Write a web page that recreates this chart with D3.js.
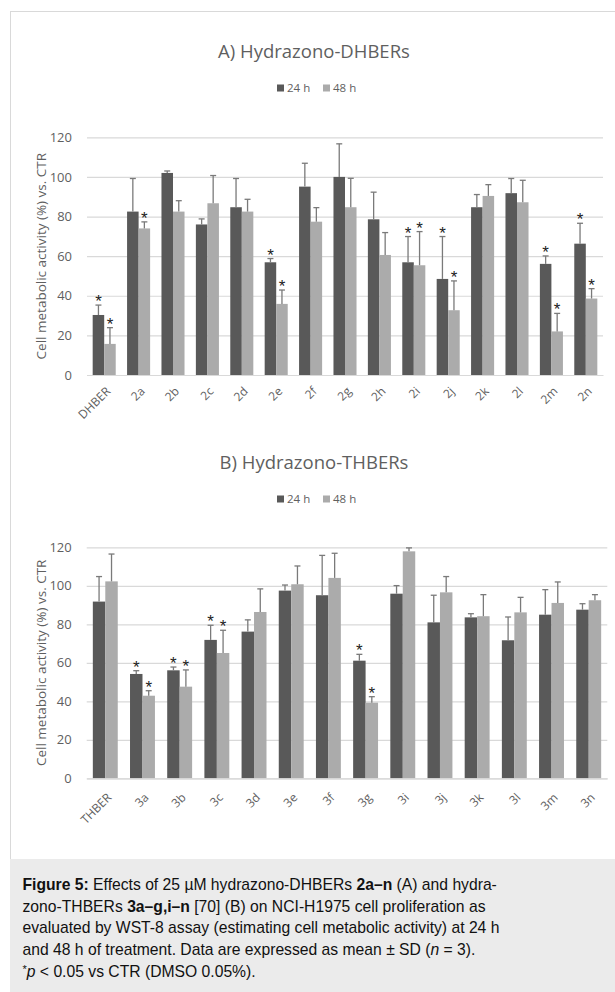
<!DOCTYPE html>
<html>
<head>
<meta charset="utf-8">
<script src="https://cdn.jsdelivr.net/npm/d3@7"></script>
<style>
  body { margin: 0; background: #fff; }
  svg { display: block; }
</style>
</head>
<body>
<div id="fig"></div>
<script>
// panel A values
const catsA = ['DHBER', '2a', '2b', '2c', '2d', '2e', '2f', '2g', '2h', '2i', '2j', '2k', '2l', '2m', '2n']
const a24 = [30.3, 82.5, 102, 76, 84.7, 56.9, 95.1, 100, 78.6, 56.9, 48.5, 84.7, 91.8, 56.1, 66.3]
const a24err = [5, 16.7, 1, 2.8, 14.5, 1.9, 11.8, 16.7, 13.7, 13, 21.4, 6.4, 7.4, 4, 10.3]
const a48 = [15.7, 74, 82.5, 86.7, 82.5, 35.9, 77.4, 84.7, 60.6, 55.4, 32.7, 90.4, 87.2, 22, 38.6]
const a48err = [8.2, 3.3, 5.5, 14, 6.2, 7, 7.1, 14.6, 11.3, 17, 14.8, 5.7, 11.1, 9.1, 5]
const sigA24 = ['DHBER', '2e', '2i', '2j', '2m', '2n']
const sigA48 = ['DHBER', '2a', '2e', '2i', '2j', '2m', '2n']

// panel B values
const catsB = ['THBER', '3a', '3b', '3c', '3d', '3e', '3f', '3g', '3i', '3j', '3k', '3l', '3m', '3n']
const b24 = [91.8, 54.2, 56.1, 71.9, 76.2, 97.5, 95.1, 61.1, 95.9, 81, 83.6, 71.7, 85, 87.6]
const b24err = [13, 1.7, 1.7, 7.6, 6.1, 2.9, 20.7, 3.3, 4.2, 14.1, 1.9, 12.1, 13, 3.1]
const b48 = [102.3, 42.9, 47.6, 65.1, 86.4, 100.8, 104.1, 39.3, 117.9, 96.6, 84.2, 86.2, 91.1, 92.5]
const b48err = [14.2, 2.6, 8.7, 11.8, 12, 9.5, 12.8, 3.1, 1.8, 8.2, 11.2, 7.8, 10.9, 2.9]
const sigB24 = ['3a', '3b', '3c', '3g']
const sigB48 = ['3a', '3b', '3c', '3g']

const yTicks = [0, 20, 40, 60, 80, 100, 120]
const seriesNames = ['24 h', '48 h']

const W = 615, H = 992
const colors = ['#595959', '#ababab']
const chartFont = "'Open Sans', sans-serif"
const textCol = '#5f5f5f'

const svg = d3.select('#fig').append('svg')
  .attr('width', W)
  .attr('height', H)

// white panel + border
svg.append('rect')
  .attr('x', 10.5).attr('y', 11.5)
  .attr('width', W).attr('height', 860)
  .attr('fill', '#fff')
  .attr('stroke', '#d9d9d9')

const makePanel = function(cfg) {
  const g = svg.append('g')

  g.append('text')
    .text(cfg.title)
    .attr('x', 314).attr('y', cfg.titleY)
    .attr('text-anchor', 'middle')
    .attr('font-family', chartFont)
    .attr('font-size', 18.5)
    .attr('fill', textCol)

  // legend
  const leg = g.append('g').attr('transform', `translate(277, ${cfg.legendY})`)
  seriesNames.forEach((s, i) => {
    const lx = i * 46
    leg.append('rect')
      .attr('x', lx).attr('y', -3.5)
      .attr('width', 7).attr('height', 7)
      .attr('fill', colors[i])
    leg.append('text')
      .text(s)
      .attr('x', lx + 10).attr('y', 4)
      .attr('font-family', chartFont)
      .attr('font-size', 11.5)
      .attr('fill', textCol)
  })

  const x0 = d3.scaleBand()
    .domain(cfg.cats)
    .range([cfg.left, cfg.right])

  const x1 = d3.scaleBand()
    .domain(seriesNames)
    .range([x0.bandwidth() * 0.165, x0.bandwidth() * 0.835])

  const y = d3.scaleLinear()
    .domain([0, 120])
    .range([cfg.bottom, cfg.top])

  // gridlines
  const yAxis = d3.axisLeft(y).tickValues(yTicks).tickSize(-(cfg.right - cfg.left)).tickPadding(15)
  const ya = g.append('g')
    .attr('transform', `translate(${cfg.left}, 0)`)
    .call(yAxis)
  ya.select('.domain').remove()
  ya.selectAll('.tick line').attr('stroke', '#d9d9d9').attr('stroke-width', 1.2)
  ya.selectAll('.tick text')
    .attr('font-family', chartFont)
    .attr('font-size', 13)
    .attr('fill', textCol)

  g.append('text')
    .text('Cell metabolic activity (%) vs. CTR')
    .attr('text-anchor', 'middle')
    .attr('transform', `translate(46, ${(cfg.top + cfg.bottom) / 2}) rotate(-90)`)
    .attr('font-family', chartFont)
    .attr('font-size', 13.5)
    .attr('fill', textCol)

  const rows = cfg.cats.map((c, i) => ({
    cat: c,
    vals: [
      { s: '24 h', v: cfg.v24[i], e: cfg.e24[i], sig: cfg.sig24.includes(c) },
      { s: '48 h', v: cfg.v48[i], e: cfg.e48[i], sig: cfg.sig48.includes(c) }
    ]
  }))

  const groups = g.append('g').selectAll('g')
    .data(rows).enter()
    .append('g')
      .attr('transform', d => `translate(${x0(d.cat)}, 0)`)

  const bars = groups.selectAll('g')
    .data(d => d.vals).enter()
    .append('g')

  bars.append('rect')
    .attr('x', d => x1(d.s))
    .attr('y', d => y(d.v))
    .attr('width', x1.bandwidth())
    .attr('height', d => y(0) - y(d.v))
    .attr('fill', (d, i) => colors[i])

  // error bars (upper only)
  bars.append('line')
    .attr('x1', d => x1(d.s) + x1.bandwidth() / 2)
    .attr('x2', d => x1(d.s) + x1.bandwidth() / 2)
    .attr('y1', d => y(d.v))
    .attr('y2', d => y(d.v + d.e))
    .attr('stroke', '#7a7a7a')
    .attr('stroke-width', 1.3)
  bars.append('line')
    .attr('x1', d => x1(d.s) + x1.bandwidth() / 2 - 3)
    .attr('x2', d => x1(d.s) + x1.bandwidth() / 2 + 3)
    .attr('y1', d => y(d.v + d.e))
    .attr('y2', d => y(d.v + d.e))
    .attr('stroke', '#7a7a7a')
    .attr('stroke-width', 1.3)

  bars.filter(d => d.sig).append('text')
    .text('*')
    .attr('x', d => x1(d.s) + x1.bandwidth() / 2)
    .attr('y', d => y(d.v + d.e) + 2)
    .attr('text-anchor', 'middle')
    .attr('font-family', "'Liberation Sans', Arial, sans-serif")
    .attr('font-size', 17)
    .attr('fill', '#222')

  // x axis
  const xAxis = d3.axisBottom(x0).tickSize(0).tickPadding(0)
  const xa = g.append('g')
    .attr('transform', `translate(0, ${cfg.bottom})`)
    .call(xAxis)
  xa.select('.domain').attr('stroke', '#d9d9d9').attr('stroke-width', 1.2)
  xa.selectAll('.tick text')
    .attr('font-family', chartFont)
    .attr('font-size', 12)
    .attr('fill', textCol)
    .attr('text-anchor', 'end')
    .attr('dy', 0)
    .attr('transform', `translate(7, ${cfg.labelDy}) rotate(-45)`)
}

makePanel({
  title: 'A) Hydrazono-DHBERs', titleY: 58, legendY: 88,
  cats: catsA, v24: a24, e24: a24err, v48: a48, e48: a48err, sig24: sigA24, sig48: sigA48,
  left: 87, right: 603, top: 137.3, bottom: 375, labelDy: 17
})

makePanel({
  title: 'B) Hydrazono-THBERs', titleY: 469, legendY: 499,
  cats: catsB, v24: b24, e24: b24err, v48: b48, e48: b48err, sig24: sigB24, sig48: sigB48,
  left: 86.7, right: 607.3, top: 547.3, bottom: 778.3, labelDy: 20
})

// caption
svg.append('rect')
  .attr('x', 10).attr('y', 859)
  .attr('width', W - 10).attr('height', H - 859)
  .attr('fill', '#ebebeb')

const capFont = "'Liberation Sans', Arial, sans-serif"
const capLines = [
  [['Figure 5:', 'b'], [' Effects of 25 µM hydrazono-DHBERs ', ''], ['2a–n', 'b'], [' (A) and hydra-', '']],
  [['zono-THBERs ', ''], ['3a–g,i–n', 'b'], [' [70] (B) on NCI-H1975 cell proliferation as', '']],
  [['evaluated by WST-8 assay (estimating cell metabolic activity) at 24 h', '']],
  [['and 48 h of treatment. Data are expressed as mean ± SD (', ''], ['n', 'i'], [' = 3).', '']],
  [['*', 'sup'], ['p', 'i'], [' < 0.05 vs CTR (DMSO 0.05%).', '']]
]
const cap = svg.append('text')
  .attr('font-family', capFont)
  .attr('font-size', 15.7)
  .attr('fill', '#111')
capLines.forEach((line, li) => {
  const t = cap.append('tspan').attr('x', 22.5).attr('y', 890 + li * 21.7)
  line.forEach(([s, st]) => {
    const sp = t.append('tspan').text(s)
    if (st === 'b') sp.attr('font-weight', 'bold')
    if (st === 'i') sp.attr('font-style', 'italic')
    if (st === 'sup') sp.attr('font-size', 11).attr('dy', -4)
    if (li === 4 && st === 'i') sp.attr('dy', 4)
  })
})
</script>
</body>
</html>
